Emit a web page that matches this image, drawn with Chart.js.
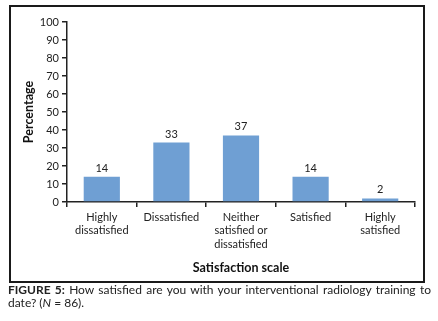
<!DOCTYPE html>
<html>
<head>
<meta charset="utf-8">
<script src="https://cdn.jsdelivr.net/npm/chart.js@4/dist/chart.umd.min.js"></script>
<style>
  html, body { margin: 0; padding: 0; background: #fff; }
  #wrap { position: absolute; left: 0; top: 0; width: 438px; height: 283px; }
  #caption {
    position: absolute; left: 8px; top: 284px; width: 423px;
    font-family: Lato, sans-serif; font-size: 12px; line-height: 12.5px;
    color: #222; text-align: justify; text-align-last: left;
  }
  #caption b { font-weight: bold; }
</style>
</head>
<body>
<div id="wrap"><canvas id="chart" width="438" height="283"></canvas></div>
<div id="caption"><b>FIGURE 5:</b> How satisfied are you with your interventional radiology training to date? (<i>N</i> = 86).</div>
<script>
const categories = [
  ['Highly', 'dissatisfied'],
  ['Dissatisfied'],
  ['Neither', 'satisfied or', 'dissatisfied'],
  ['Satisfied'],
  ['Highly', 'satisfied'],
];
const percentages = [14, 33, 37, 14, 2];
const yTitle = 'Percentage';
const xTitle = 'Satisfaction scale';

const ink = '#222';

// frame round the plot, like the figure box
const framePlugin = {
  id: 'frame',
  beforeDraw(chart) {
    const { ctx } = chart;
    ctx.save();
    ctx.strokeStyle = '#1a1a1a';
    ctx.lineWidth = 2;
    ctx.strokeRect(10, 6, 414, 276);
    ctx.restore();
  },
};

// value labels above each bar
const valueLabels = {
  id: 'value-labels',
  afterDatasetsDraw(chart) {
    const { ctx } = chart;
    const meta = chart.getDatasetMeta(0);
    ctx.save();
    ctx.fillStyle = ink;
    ctx.font = '11px Lato, sans-serif';
    ctx.textAlign = 'center';
    ctx.textBaseline = 'bottom';
    meta.data.forEach((bar, i) => {
      ctx.fillText(String(percentages[i]), bar.x, bar.y - 3);
    });
    ctx.restore();
  },
};

new Chart(document.getElementById('chart'), {
  type: 'bar',
  plugins: [framePlugin, valueLabels],
  data: {
    labels: categories,
    datasets: [{
      data: percentages,
      backgroundColor: '#6F9FD3',
      borderWidth: 0,
      barPercentage: 0.52,
      categoryPercentage: 1,
    }],
  },
  options: {
    responsive: false,
    animation: false,
    layout: { padding: { left: 21, top: 22, right: 23, bottom: 8 } },
    plugins: { legend: { display: false }, tooltip: { enabled: false } },
    scales: {
      x: {
        grid: { drawOnChartArea: false, drawTicks: true, tickLength: 5, color: ink, lineWidth: 1.5 },
        border: { display: true, color: ink, width: 1.5 },
        ticks: { color: ink, font: { family: 'Lato, sans-serif', size: 11 }, padding: 4, maxRotation: 0, autoSkip: false },
        title: { display: true, text: xTitle, color: '#111', font: { family: 'Lato, sans-serif', size: 12.5, weight: 'bold' }, padding: { top: 4, bottom: 0 } },
        afterFit: s => { s.height = 73; },
      },
      y: {
        min: 0, max: 100,
        grid: { drawOnChartArea: false, drawTicks: true, tickLength: 5, color: ink, lineWidth: 1.5 },
        border: { display: true, color: ink, width: 1.5 },
        ticks: { stepSize: 10, color: ink, font: { family: 'Lato, sans-serif', size: 11 }, padding: 3 },
        title: { display: true, text: yTitle, color: '#111', font: { family: 'Lato, sans-serif', size: 12.5, weight: 'bold' }, padding: 0 },
        afterFit: s => { s.width = 46; },
      },
    },
  },
});
</script>
</body>
</html>
